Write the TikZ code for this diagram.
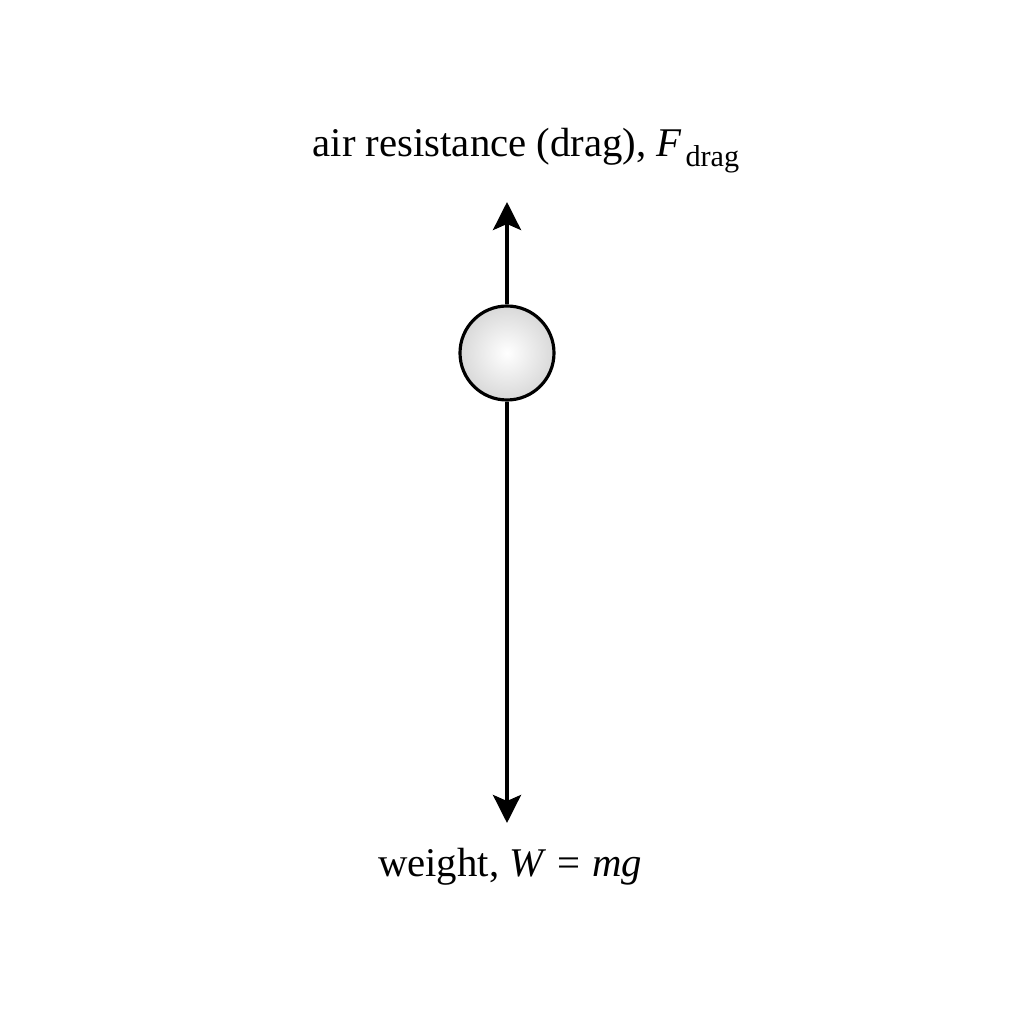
\documentclass[tikz,border=0pt]{standalone}
\usepackage{fontspec}
\setmainfont{Liberation Serif}
\usetikzlibrary{arrows.meta,positioning}
\begin{document}
\begin{tikzpicture}[>={Stealth[length=2.8mm,width=2.8mm,inset=0.6mm]},
  force/.style={->,line width=1.1pt},
  ball/.style={circle,draw,line width=0.9pt,minimum size=9.4mm,inner sep=0pt,
    inner color=white,outer color=gray!30},
  lbl/.style={font=\fontsize{11.6}{13}\selectfont,inner sep=0pt}]
  \useasboundingbox (0,0) rectangle (10.24,10.24);
  \node[ball] (m) at (5.07,6.71) {};
  \coordinate (up) at (5.07,8.22);
  \coordinate (down) at (5.07,2.01);
  \draw[force] (m) -- (up);
  \draw[force] (m) -- (down);
  \node[lbl,anchor=base] (drag) at (5.26,8.67)
    {air resistance (drag), \textit{F}\kern1pt\raisebox{-0.5ex}{\fontsize{8.6}{9}\selectfont drag}};
  \node[lbl,anchor=base] (weight) at (5.10,1.47) {weight, \textit{W}\;=\;\textit{mg}};
\end{tikzpicture}
\end{document}
